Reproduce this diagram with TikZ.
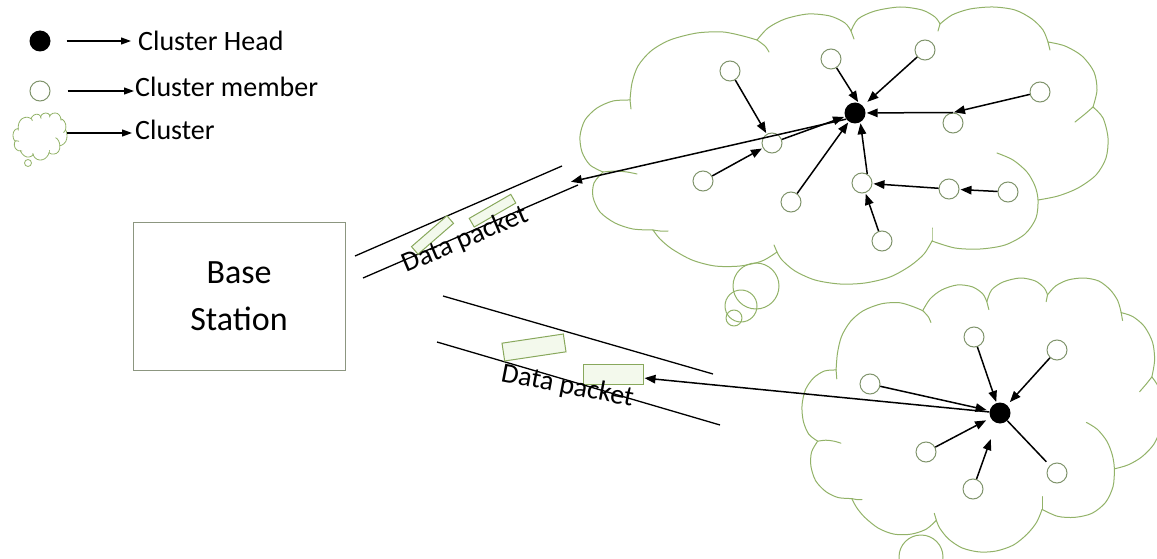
\documentclass[tikz,border=0pt]{standalone}
\usepackage{fontspec}
\setmainfont{Carlito}
\usetikzlibrary{arrows.meta}

\definecolor{cloudline}{RGB}{146,178,104}
\definecolor{memberline}{RGB}{128,148,108}
\definecolor{boxline}{RGB}{140,150,128}
\definecolor{packetline}{RGB}{136,168,92}
\definecolor{packetfill}{RGB}{243,249,236}

\tikzset{
  cloudedge/.style={draw=cloudline, line width=1pt, line join=round, line cap=round},
  cmember/.style={circle, draw=memberline, line width=1pt, fill=white, minimum size=20pt, inner sep=0pt},
  chead/.style={circle, fill=black, minimum size=21pt, inner sep=0pt},
  link/.style={-{Triangle[length=11pt,width=8.5pt]}, line width=1.5pt, shorten >=1pt},
  bareline/.style={line width=1.5pt},
  legendarrow/.style={-{Triangle[length=10pt,width=7pt]}, line width=1.2pt},
  channel/.style={line width=1.3pt},
  packet/.style={draw=packetline, fill=packetfill, line width=1pt, inner sep=0pt},
  station/.style={draw=boxline, line width=1pt, minimum width=212pt, minimum height=148pt,
    align=center, font=\fontsize{34}{47}\selectfont},
  legendtext/.style={anchor=base west, inner sep=0pt, font=\fontsize{28}{32}\selectfont},
  packettext/.style={anchor=base west, inner sep=0pt, font=\fontsize{28}{32}\selectfont},
}

% Cloud outline: eleven lobes plus the short inner arcs, in the
% coordinates of the large cloud (x 580..1108, y 7..284)
\newcommand\drawcloudshape[1][]{%
  \draw[cloudedge,#1] plot[smooth] coordinates {(630,100) (632,83) (638,66) (651,51) (670,40) (697,33) (723,32) (743,36) (757,40)};
  \draw[cloudedge,#1] plot[smooth] coordinates {(757,40) (765,46) (769,52)};
  \draw[cloudedge,#1] plot[smooth] coordinates {(757,40) (768,28) (785,19) (808,14) (830,16) (845,23) (851,31)};
  \draw[cloudedge,#1] plot[smooth] coordinates {(851,31) (854,39)};
  \draw[cloudedge,#1] plot[smooth] coordinates {(851,31) (858,19) (875,11) (900,7) (922,10) (935,17) (940,24)};
  \draw[cloudedge,#1] plot[smooth] coordinates {(940,24) (938,31)};
  \draw[cloudedge,#1] plot[smooth] coordinates {(940,24) (952,15) (970,9) (993,7) (1015,10) (1032,19) (1043,30) (1048,42)};
  \draw[cloudedge,#1] plot[smooth] coordinates {(1048,42) (1050,50)};
  \draw[cloudedge,#1] plot[smooth] coordinates {(1048,42) (1065,46) (1082,56) (1094,72) (1097,90) (1093,107)};
  \draw[cloudedge,#1] plot[smooth] coordinates {(1093,107) (1085,114) (1075,122)};
  \draw[cloudedge,#1] plot[smooth] coordinates {(1093,107) (1103,118) (1108,138) (1106,158) (1096,175) (1078,188) (1058,196) (1038,200)};
  \draw[cloudedge,#1] plot[smooth] coordinates {(997,153) (1013,160) (1027,172) (1035,186) (1038,200) (1036,218) (1025,234) (1005,245) (980,249) (955,248) (932,241)};
  \draw[cloudedge,#1] plot[smooth] coordinates {(932,241) (932,228)};
  \draw[cloudedge,#1] plot[smooth] coordinates {(932,241) (924,254) (910,266) (890,277) (865,283) (840,284) (815,280) (795,271) (782,260) (777,252)};
  \draw[cloudedge,#1] plot[smooth] coordinates {(777,252) (774,245)};
  \draw[cloudedge,#1] plot[smooth] coordinates {(777,252) (762,261) (740,266) (715,266) (692,260) (672,249) (660,239) (653,230)};
  \draw[cloudedge,#1] plot[smooth] coordinates {(653,230) (660,231) (668,231)};
  \draw[cloudedge,#1] plot[smooth] coordinates {(653,230) (633,229) (615,223) (600,212) (593,197) (594,183) (603,172)};
  \draw[cloudedge,#1] plot[smooth] coordinates {(603,172) (615,171) (627,172) (637,174)};
  \draw[cloudedge,#1] plot[smooth] coordinates {(603,172) (590,165) (582,152) (580,136) (585,120) (597,108) (613,101) (630,100)};
  \draw[cloudedge,#1] plot[smooth] coordinates {(630,100) (631,109)};
}

\begin{document}
\begin{tikzpicture}[x=1pt,y=-1pt]
\useasboundingbox (0,0) rectangle (1157,559);
\clip (0,0) rectangle (1157,559);

% ---------- legend ----------
\node[chead] (lgh) at (40,41) {};
\node[legendtext] (lght) at (138,50.7) {Cluster Head};
\draw[legendarrow] ([xshift=16pt]lgh.east) -- ([xshift=-7pt]lght.base west |- lgh.east);

\node[cmember] (lgm) at (40,91) {};
\node[legendtext] (lgmt) at (135,96.7) {Cluster member};
\draw[legendarrow] ([xshift=17pt]lgm.east) -- ([xshift=-1pt]lgmt.base west |- lgm.east);

\begin{scope}[shift={(13,113)}, xscale=0.1023, yscale=0.1697, shift={(-580,-7)}]
  \drawcloudshape[line width=0.8pt]
\end{scope}
\draw[cloudedge, line width=0.8pt] (28,163) circle[radius=3.5];
\coordinate (lgc) at (67,133);
\node[legendtext] (lgct) at (135,140) {Cluster};
\draw[legendarrow] (lgc) -- ([xshift=-3pt]lgct.base west |- lgc);

% ---------- base station ----------
\node[station] (bs) at (239,296) {Base\\Station};

% ---------- upper cluster ----------
\drawcloudshape
\draw[cloudedge] (756,286) circle[radius=23];
\draw[cloudedge] (741,306) circle[radius=16];
\draw[cloudedge] (734,318) circle[radius=8];

\node[chead] (uhead) at (855,113) {};
\node[cmember] (ua) at (730,71) {};
\node[cmember] (ub) at (831,59) {};
\node[cmember] (uc) at (772,143) {};
\node[cmember] (ud) at (703,181) {};
\node[cmember] (ue) at (791,202) {};
\node[cmember] (ug) at (925,50) {};
\node[cmember] (uh) at (1040,92) {};
\node[cmember] (ui) at (953,123) {};
\node[cmember] (uj) at (862,183) {};
\node[cmember] (uk) at (949,189) {};
\node[cmember] (ul) at (1008,192) {};
\node[cmember] (um) at (882,241) {};

\draw[link] (ua) -- (uc);
\draw[link] (ub) -- (uhead.70);
\draw[link, shorten >=6pt] (ug) -- (uhead);
\draw[link] (uh) -- (ui.north);
\draw[link] (ui.north) -- (uhead);
\draw[link] (uc) -- (uhead);
\draw[link] (ud) -- (uc);
\draw[link] (ue) -- (uhead);
\draw[link] (uj.60) -- (uhead.300);
\draw[link] (uk) -- (uj);
\draw[link] (ul) -- (uk);
\draw[link] (um) -- (uj);

% upper channel with packets
\coordinate (uca) at (355,256);
\coordinate (ucb) at (562,166);
\coordinate (ucc) at (363,278);
\coordinate (ucd) at (578,185);
\draw[channel] (uca) -- (ucb);
\draw[channel] (ucc) -- (ucd);
\node[packet, minimum width=47pt, minimum height=10pt, rotate=41] (upk1) at (432.5,235) {};
\node[packet, minimum width=48pt, minimum height=10pt, rotate=30] (upk2) at (492.5,210.7) {};
\node[packettext, rotate=23] (uptext) at (406,273) {Data packet};
\coordinate (utip) at (570,182);
\draw[link] (uhead.215) -- (utip);

% ---------- lower cluster ----------
\begin{scope}[shift={(802,278)}, xscale=0.682, yscale=0.989, shift={(-580,-7)}]
  \drawcloudshape
\end{scope}
\draw[cloudedge] (921,557) circle[radius=22];

\node[chead] (lhead) at (1000,413) {};
\node[cmember] (la) at (974,337) {};
\node[cmember] (lb) at (1057,350) {};
\node[cmember] (lc) at (870,384) {};
\node[cmember] (ld) at (926,452) {};
\node[cmember] (le) at (973,489) {};
\node[cmember] (lf) at (1057,473) {};

\draw[link] (la) -- (lhead);
\draw[link, shorten >=4pt] (lb) -- (lhead);
\draw[link, shorten >=3pt] (lc) -- (lhead);
\draw[link, shorten >=5pt] (ld) -- (lhead);
\draw[link, shorten >=17pt] (le) -- (lhead);
\draw[bareline, shorten >=5pt] (lhead) -- (lf);

% lower channel with packets
\coordinate (lca) at (443,296);
\coordinate (lcb) at (713,374);
\coordinate (lcc) at (437,342);
\coordinate (lcd) at (720,425);
\draw[channel] (lca) -- (lcb);
\draw[channel] (lcc) -- (lcd);
\node[packet, minimum width=62pt, minimum height=18pt, rotate=8.5] (lpk1) at (534,347.5) {};
\node[packet, minimum width=60pt, minimum height=20pt] (lpk2) at (613,374) {};
\node[packettext, rotate=-11] (lptext) at (500,381) {Data packet};
\draw[link] (lhead) -- ([yshift=-4pt]lpk2.east);
\end{tikzpicture}
\end{document}
